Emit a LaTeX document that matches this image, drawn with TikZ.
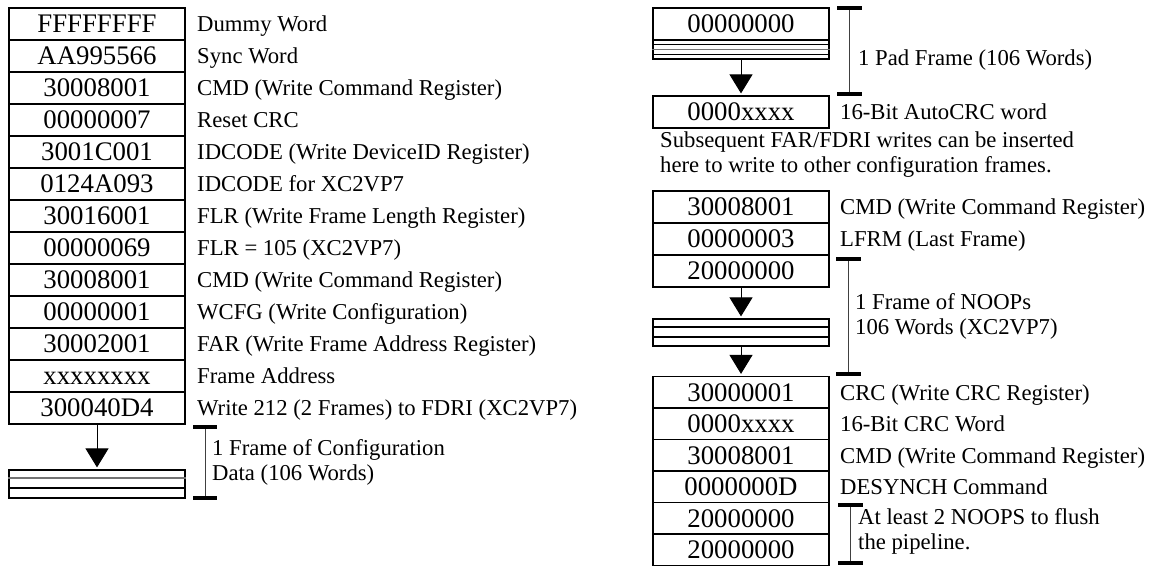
\documentclass[tikz,border=0pt]{standalone}
\usepackage{fontspec}
\setmainfont{Liberation Serif}
\usetikzlibrary{arrows.meta}
\begin{document}
\begin{tikzpicture}[x=1pt,y=-1pt,
  word/.style={draw, line width=1.2pt, minimum width=176pt, minimum height=32pt, inner sep=0pt,
    text height=17.5pt, text depth=0pt, font=\fontsize{26.8}{29}\selectfont},
  wordb/.style={word, minimum height=31.5pt},
  stackbox/.style={draw, line width=1.2pt, minimum width=176pt, inner sep=0pt},
  lbl/.style={anchor=west, inner sep=0pt, align=left, font=\fontsize{22.7}{25}\selectfont},
  onel/.style={lbl, text height=15.5pt, text depth=0pt},
  flow/.style={line width=1pt, shorten >=2pt, -{Triangle[width=23pt,length=19pt]}},
  brk/.style={line width=1pt, draw=black!75},
  barend/.style={line width=3.5pt},
  midline/.style={line width=1.6pt},
  grayline/.style={line width=1.8pt, draw=black!55}]
\useasboundingbox (0,0) rectangle (1150,565);

% ---------------- left column ----------------
\foreach \h/\t [count=\i] in {
  FFFFFFFF/Dummy Word,
  AA995566/Sync Word,
  30008001/CMD (Write Command Register),
  00000007/Reset CRC,
  3001C001/IDCODE (Write DeviceID Register),
  0124A093/IDCODE for XC2VP7,
  30016001/FLR (Write Frame Length Register),
  00000069/FLR = 105 (XC2VP7),
  30008001/CMD (Write Command Register),
  00000001/WCFG (Write Configuration),
  30002001/FAR (Write Frame Address Register),
  xxxxxxxx/Frame Address,
  300040D4/Write 212 (2 Frames) to FDRI (XC2VP7)} {
  \node[word] (L\i) at (97,{24+32*(\i-1)}) {\h};
  \node[onel] (LT\i) at (197,{24+32*(\i-1)}) {\t};
}

\node[stackbox, minimum height=28pt] (S1) at (97,484) {};
\draw[grayline] (S1.west |- 0,478) -- (S1.east |- 0,478);
\draw[midline] (S1.west |- 0,488) -- (S1.east |- 0,488);
\draw[flow] (L13.south) -- (S1.north);

\coordinate (B1t) at (205,427);
\coordinate (B1b) at (205,498);
\draw[brk] (B1t) -- (B1b);
\draw[barend] ([xshift=-12pt]B1t) -- ([xshift=12pt]B1t);
\draw[barend] ([xshift=-12pt]B1b) -- ([xshift=12pt]B1b);
\node[lbl] (B1txt) at (212,462) {1 Frame of Configuration\\Data (106 Words)};

% ---------------- right column ----------------
\node[word] (R1) at (741,24) {00000000};
\node[stackbox, minimum height=19pt] (P1) at (741,49.5) {};
\draw[line width=0.8pt] (P1.west |- 0,44.5) -- (P1.east |- 0,44.5);
\draw[grayline] (P1.west |- 0,49.5) -- (P1.east |- 0,49.5);
\draw[line width=0.8pt] (P1.west |- 0,54) -- (P1.east |- 0,54);
\node[word] (R2) at (741,112) {0000xxxx};
\node[onel] (RT2) at (840,112) {16-Bit AutoCRC word};
\draw[flow] (P1.south) -- (R2.north);

\coordinate (B2t) at (849,8);
\coordinate (B2b) at (849,94);
\draw[brk] (B2t) -- (B2b);
\draw[barend] ([xshift=-12pt]B2t) -- ([xshift=13pt]B2t);
\draw[barend] ([xshift=-12pt]B2b) -- ([xshift=13pt]B2b);
\node[onel] (B2txt) at (858,58) {1 Pad Frame (106 Words)};

\node[lbl] (note) at (660,155) {Subsequent FAR/FDRI writes can be inserted\\here to write to other configuration frames.};

\node[word] (R3) at (741,207) {30008001};
\node[onel] (RT3) at (840,207) {CMD (Write Command Register)};
\node[word] (R4) at (741,239) {00000003};
\node[onel] (RT4) at (840,239) {LFRM (Last Frame)};
\node[word] (R5) at (741,271) {20000000};

\node[stackbox, minimum height=27pt] (S2) at (741,332.5) {};
\draw[midline] (S2.west |- 0,327) -- (S2.east |- 0,327);
\draw[midline] (S2.west |- 0,337) -- (S2.east |- 0,337);
\draw[flow] (R5.south) -- (S2.north);

\node[wordb] (R6) at (741,392.25) {30000001};
\node[onel] (RT6) at (840,392.25) {CRC (Write CRC Register)};
\node[wordb] (R7) at (741,423.75) {0000xxxx};
\node[onel] (RT7) at (840,423.75) {16-Bit CRC Word};
\node[wordb] (R8) at (741,455.25) {30008001};
\node[onel] (RT8) at (840,455.25) {CMD (Write Command Register)};
\node[wordb] (R9) at (741,486.75) {0000000D};
\node[onel] (RT9) at (840,486.75) {DESYNCH Command};
\node[wordb] (R10) at (741,518.25) {20000000};
\node[wordb] (R11) at (741,549.75) {20000000};
\draw[flow] (S2.south) -- (R6.north);

\coordinate (B3t) at (848,259);
\coordinate (B3b) at (848,374);
\draw[brk] (B3t) -- (B3b);
\draw[barend] ([xshift=-12pt]B3t) -- ([xshift=13pt]B3t);
\draw[barend] ([xshift=-12pt]B3b) -- ([xshift=13pt]B3b);
\node[lbl] (B3txt) at (855,316) {1 Frame of NOOPs\\106 Words (XC2VP7)};

\coordinate (B4t) at (850,505);
\coordinate (B4b) at (850,563);
\draw[brk] (B4t) -- (B4b);
\draw[barend] ([xshift=-12pt]B4t) -- ([xshift=13pt]B4t);
\draw[barend] ([xshift=-12pt]B4b) -- ([xshift=13pt]B4b);
\node[lbl] (B4txt) at (858,531) {At least 2 NOOPS to flush\\the pipeline.};
\end{tikzpicture}
\end{document}
